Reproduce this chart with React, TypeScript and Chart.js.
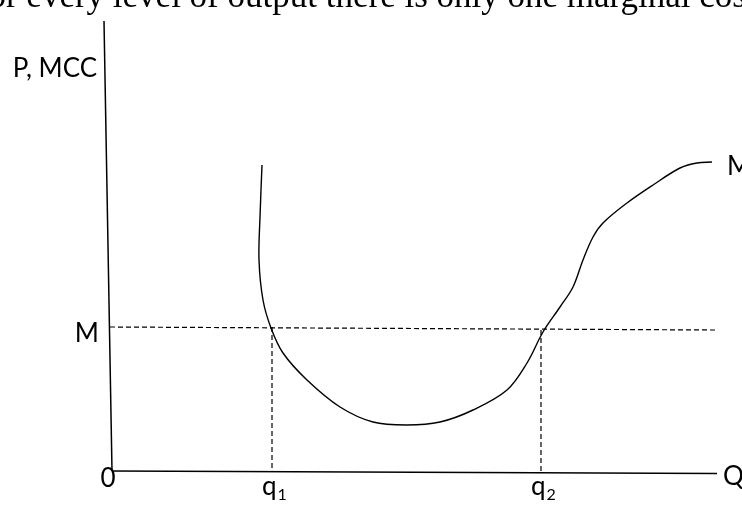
import React, { useEffect, useRef } from "react";
import { Chart, registerables } from "chart.js";

Chart.register(...registerables);

// Marginal cost curve (quantity, price)
const curveQ = [15.0, 14.8, 14.7, 15.1, 15.9, 17.1, 19.5, 22.8, 26.1, 29.5, 32.8, 36.1, 39.5, 41.5, 43.1, 44.8, 46.1, 47.1, 48.1, 49.1, 51.5, 54.1, 56.8, 58.5, 60.0];
const curveP = [30.6, 25.4, 21.1, 17.1, 14.3, 11.8, 9.1, 6.4, 4.9, 4.6, 4.9, 6.1, 8.1, 10.8, 13.9, 16.4, 18.4, 21.1, 23.4, 24.8, 26.8, 28.6, 30.3, 30.8, 30.9];

// Axes (slightly hand-drawn)
const yAxisQ = [-0.8, 0];
const yAxisP = [45.0, 0];
const xAxisQ = [0, 60.5];
const xAxisP = [0, -0.25];

// Reference levels
const priceM = [14.4, 14.1]; // dashed horizontal at M (left, right)
const priceMQ = [-0.2, 60.3];
const q1 = 16.0;
const q2 = 42.9;

const axisLabels = ["P, MCC", "Q", "0", "M"];
const qLabels = ["q", "1", "2"];
const curveLabel = "M";
const topText = "For every level of output there is only one marginal cost";

const pts = (xs: number[], ys: number[]) => xs.map((x, i) => ({ x, y: ys[i] }));

export default function App() {
  const ref = useRef<HTMLCanvasElement | null>(null);
  useEffect(() => {
    if (!ref.current) return;
    const labelsPlugin = {
      id: "labels",
      afterDraw(chart: any) {
        const ctx = chart.ctx;
        const xs = chart.scales.x;
        const ys = chart.scales.y;
        const ox = xs.getPixelForValue(0);
        const oy = ys.getPixelForValue(0);
        ctx.save();
        ctx.fillStyle = "#000";
        ctx.textBaseline = "alphabetic";
        // top clipped sentence
        ctx.font = "35px 'Liberation Serif', 'Times New Roman', serif";
        ctx.textAlign = "left";
        ctx.fillText(topText, -31, 7);
        ctx.font = "26px Lato, sans-serif";
        // P, MCC
        const topY = ys.getPixelForValue(yAxisP[0]);
        ctx.textAlign = "right";
        ctx.fillText(axisLabels[0], ox - 15, topY + 56);
        // M on y axis
        const mY = ys.getPixelForValue(priceM[0]);
        ctx.fillText(axisLabels[3], ox - 13, mY + 15);
        // 0
        ctx.textAlign = "center";
        ctx.fillText(axisLabels[2], ox - 4, oy + 16);
        // Q
        ctx.textAlign = "left";
        const endX = xs.getPixelForValue(xAxisQ[1]);
        ctx.fillText(axisLabels[1], endX + 6, oy + 14);
        // q1, q2
        const drawQ = (qv: number, sub: string) => {
          const px = xs.getPixelForValue(qv);
          ctx.font = "26px Lato, sans-serif";
          ctx.textAlign = "left";
          const w = ctx.measureText(qLabels[0]).width;
          ctx.fillText(qLabels[0], px - 10, oy + 24);
          ctx.font = "16px Lato, sans-serif";
          ctx.fillText(sub, px - 10 + w + 1, oy + 29);
        };
        drawQ(q1, qLabels[1]);
        drawQ(q2, qLabels[2]);
        // curve label
        ctx.font = "26px Lato, sans-serif";
        const cx = xs.getPixelForValue(curveQ[curveQ.length - 1]);
        const cy = ys.getPixelForValue(curveP[curveP.length - 1]);
        ctx.fillText(curveLabel, cx + 15, cy + 13);
        ctx.restore();
      },
    };
    const dash = [5, 3];
    const chart = new Chart(ref.current, {
      type: "scatter",
      data: {
        datasets: [
          { data: pts(yAxisQ, yAxisP), showLine: true, borderColor: "#000", borderWidth: 1.5, pointRadius: 0, tension: 0 },
          { data: pts(xAxisQ, xAxisP), showLine: true, borderColor: "#000", borderWidth: 1.5, pointRadius: 0, tension: 0 },
          { data: pts(priceMQ, priceM), showLine: true, borderColor: "#000", borderWidth: 1.2, borderDash: dash, pointRadius: 0, tension: 0 },
          { data: [{ x: q1, y: priceM[0] }, { x: q1, y: 0 }], showLine: true, borderColor: "#000", borderWidth: 1.2, borderDash: dash, pointRadius: 0, tension: 0 },
          { data: [{ x: q2, y: priceM[1] }, { x: q2, y: -0.15 }], showLine: true, borderColor: "#000", borderWidth: 1.2, borderDash: dash, pointRadius: 0, tension: 0 },
          { data: pts(curveQ, curveP), showLine: true, borderColor: "#000", borderWidth: 1.4, pointRadius: 0, tension: 0.35 },
        ],
      },
      options: {
        animation: false,
        responsive: false,
        devicePixelRatio: 1,
        layout: { padding: 0 },
        plugins: { legend: { display: false }, tooltip: { enabled: false }, title: { display: false } },
        scales: {
          x: { type: "linear", display: false, min: -11.2, max: 63.0 },
          y: { type: "linear", display: false, min: -3.5, max: 47.1 },
        },
      },
      plugins: [labelsPlugin],
    });
    return () => chart.destroy();
  }, []);
  return (
    <div style={{ position: "absolute", left: 0, top: 0, width: 742, height: 506, background: "#fff" }}>
      <canvas ref={ref} width={742} height={506} />
    </div>
  );
}
